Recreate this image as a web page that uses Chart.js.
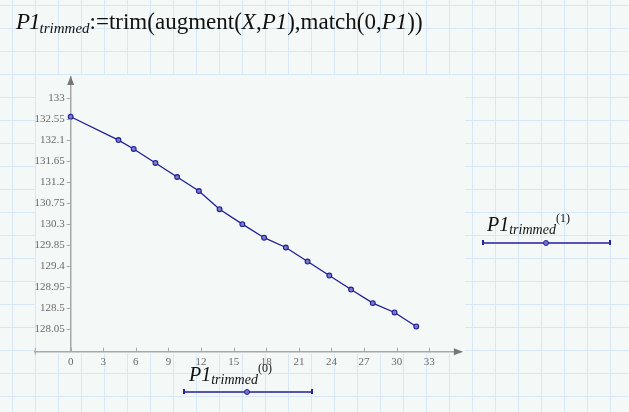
<!DOCTYPE html>
<html>
<head>
<meta charset="utf-8">
<script src="https://cdn.jsdelivr.net/npm/chart.js@4"></script>
<style>
  body {
    margin: 0;
    width: 629px;
    height: 412px;
    overflow: hidden;
    background-color: #f4f8f6;
    background-image:
      linear-gradient(to right, #d8e7f6 1px, transparent 1px),
      linear-gradient(to bottom, #d8e7f6 1px, transparent 1px);
    background-size: 23px 23px;
    background-position: 12px 5px;
    font-family: 'Liberation Serif', serif;
  }
  #plotBg {
    position: absolute;
    left: 36px; top: 75px;
    width: 429px; height: 279px;
    background: #f4f8f6;
  }
  #chartBox {
    position: absolute;
    left: 0; top: 0;
    width: 629px; height: 412px;
  }
  .txt {
    position: absolute;
    white-space: nowrap;
    color: #111;
  }
  .txt i { font-style: italic; }
  .sub { font-style: italic; position: relative; }
  .sup { position: relative; }
  .par { display: inline-block; transform: scaleY(1.12); }
  .legline {
    position: absolute;
    height: 2px;
    background: #5454b4;
  }
  .legdot {
    position: absolute;
    width: 4px; height: 4px;
    border: 1.3px solid #23239a;
    border-radius: 50%;
    background: #7373c8;
  }
  .legcap {
    position: absolute;
    width: 1.5px; height: 5px;
    background: #23239a;
  }
</style>
</head>
<body>
<div id="plotBg"></div>
<div id="chartBox"><canvas id="chart" width="629" height="412"></canvas></div>

<div class="txt" style="left:16px;top:10px;font-size:23px;line-height:23px;">
  <i style="letter-spacing:-1px">P1</i><span class="sub" style="font-size:15px;top:4px;">trimmed</span>:=trim<span class="par">(</span>augment<span class="par">(</span><i>X</i>,<i>P1</i><span class="par">)</span>,match<span class="par">(</span>0,<i>P1</i><span class="par">))</span>
</div>

<div class="txt" style="left:189px;top:364px;font-size:20px;line-height:20px;">
  <i>P1</i><span class="sub" style="font-size:14px;top:3px;">trimmed</span><span class="sup" style="font-size:12px;top:-9px;">(0)</span>
</div>
<div class="legline" style="left:183px;top:391px;width:129px;"></div>
<div class="legcap" style="left:183px;top:389px;"></div>
<div class="legcap" style="left:311px;top:389px;"></div>
<div class="legdot" style="left:244px;top:388.5px;"></div>

<div class="txt" style="left:487px;top:214px;font-size:20px;line-height:20px;">
  <i>P1</i><span class="sub" style="font-size:14px;top:3px;">trimmed</span><span class="sup" style="font-size:12px;top:-9px;">(1)</span>
</div>
<div class="legline" style="left:482px;top:242px;width:128px;"></div>
<div class="legcap" style="left:482px;top:240px;"></div>
<div class="legcap" style="left:609px;top:240px;"></div>
<div class="legdot" style="left:543px;top:239.5px;"></div>

<script>
// column 0 and column 1 of P1_trimmed
const xValues = [0, 4.4, 5.8, 7.8, 9.8, 11.8, 13.7, 15.8, 17.8, 19.8, 21.8, 23.8, 25.8, 27.8, 29.8, 31.8];
const yValues = [132.59, 132.09, 131.9, 131.6, 131.3, 131.0, 130.61, 130.29, 130.0, 129.79, 129.49, 129.19, 128.89, 128.6, 128.4, 128.1];

const xTicks = [0, 3, 6, 9, 12, 15, 18, 21, 24, 27, 30, 33];
const yTicks = [128.05, 128.5, 128.95, 129.4, 129.85, 130.3, 130.75, 131.2, 131.65, 132.1, 132.55, 133];

const xMin = -3.3, xMax = 36;
const yMin = 127.56, yMax = 133.44;

const tickFont = "11px 'Liberation Serif'";
const tickColor = '#6a6a6a';
const axisColor = '#a8a8a8';

function getPoints() {
    let data = [];
    for (let i = 0; i < xValues.length; i++) {
        data.push({ x: xValues[i], y: yValues[i] });
    }
    return data;
}

// arrow heads, tick marks and y labels drawn by hand, like the mathcad plot
const mathcadAxes = {
    id: 'mathcadAxes',
    afterDraw(chart) {
        const ctx = chart.ctx;
        const xs = chart.scales.x;
        const ys = chart.scales.y;
        const ax = xs.getPixelForValue(0);
        const ay = ys.getPixelForValue(yMin);
        ctx.save();

        // y tick marks + labels
        ctx.strokeStyle = axisColor;
        ctx.lineWidth = 1;
        ctx.font = tickFont;
        ctx.fillStyle = tickColor;
        ctx.textAlign = 'right';
        ctx.textBaseline = 'middle';
        for (let i = 0; i < yTicks.length; i++) {
            let py = Math.round(ys.getPixelForValue(yTicks[i])) + 0.5;
            ctx.beginPath();
            ctx.moveTo(ax - 4, py);
            ctx.lineTo(ax, py);
            ctx.stroke();
            ctx.fillText(String(yTicks[i]), ax - 6, py);
        }

        // x tick marks, above the axis
        for (let i = 0; i < xTicks.length; i++) {
            let px = Math.round(xs.getPixelForValue(xTicks[i])) + 0.5;
            ctx.beginPath();
            ctx.moveTo(px, ay - 4);
            ctx.lineTo(px, ay);
            ctx.stroke();
        }
        // small end mark on the left of the x axis
        ctx.beginPath();
        ctx.moveTo(xs.left + 0.5, ay - 4);
        ctx.lineTo(xs.left + 0.5, ay + 3);
        ctx.stroke();

        ctx.fillStyle = '#777';
        ctx.beginPath();
        ctx.moveTo(ax, ys.top - 1);
        ctx.lineTo(ax - 3.5, ys.top + 8);
        ctx.lineTo(ax + 3.5, ys.top + 8);
        ctx.closePath();
        ctx.fill();
        ctx.beginPath();
        ctx.moveTo(xs.right + 1, ay);
        ctx.lineTo(xs.right - 8, ay - 3.5);
        ctx.lineTo(xs.right - 8, ay + 3.5);
        ctx.closePath();
        ctx.fill();
        ctx.restore();
    }
};

function createChart(ctx) {
    return new Chart(ctx, {
        type: 'scatter',
        data: {
            datasets: [{
                data: getPoints(),
                showLine: true,
                borderColor: '#1e1e96',
                borderWidth: 1.3,
                pointRadius: 2.4,
                pointBorderWidth: 1.1,
                pointBorderColor: '#1e1e96',
                pointBackgroundColor: '#7a7acc',
                tension: 0
            }]
        },
        options: {
            responsive: false,
            animation: false,
            layout: {
                padding: { left: 34.8, right: 167.1, top: 77, bottom: 60.3 }
            },
            plugins: {
                legend: { display: false },
                tooltip: { enabled: false }
            },
            scales: {
                x: {
                    type: 'linear',
                    min: xMin,
                    max: xMax,
                    position: { y: yMin },
                    afterBuildTicks: function (scale) {
                        scale.ticks = xTicks.map(v => ({ value: v }));
                    },
                    ticks: {
                        callback: v => String(v),
                        color: tickColor,
                        padding: 4,
                        maxRotation: 0,
                        font: { family: 'Liberation Serif', size: 11 }
                    },
                    grid: { drawOnChartArea: false, drawTicks: false },
                    border: { color: axisColor, width: 1.5 }
                },
                y: {
                    type: 'linear',
                    min: yMin,
                    max: yMax,
                    position: { x: 0 },
                    ticks: { display: false },
                    grid: { drawOnChartArea: false, drawTicks: false },
                    border: { color: axisColor, width: 1.5 }
                }
            }
        },
        plugins: [mathcadAxes]
    });
}

createChart(document.getElementById('chart').getContext('2d'));
</script>
</body>
</html>
